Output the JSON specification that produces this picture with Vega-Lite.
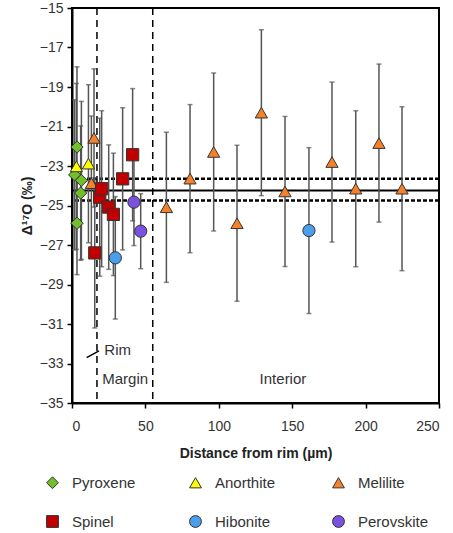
{
  "$schema": "https://vega.github.io/schema/vega-lite/v6.json",
  "width": 367,
  "height": 395,
  "autosize": "none",
  "padding": {"left": 72, "top": 8, "right": 14, "bottom": 130},
  "background": "white",
  "config": {
    "font": "Liberation Sans",
    "view": {"stroke": "#000", "strokeWidth": 2},
    "axis": {
      "grid": false,
      "domainColor": "#000",
      "domainWidth": 2,
      "tickColor": "#000",
      "tickWidth": 1.5,
      "tickSize": 5,
      "labelOverlap": false,
      "labelFont": "Liberation Sans",
      "labelFontSize": 14,
      "labelColor": "#333",
      "titleFont": "Liberation Sans",
      "titleFontSize": 14,
      "titleFontWeight": "bold",
      "titleColor": "#222"
    }
  },
  "data": {
    "values": [
      {"mineral": "Pyroxene", "d": 3.4, "v": -22.04, "e": 4.06},
      {"mineral": "Pyroxene", "d": 1.8, "v": -23.45, "e": 3.8},
      {"mineral": "Pyroxene", "d": 6.4, "v": -23.73, "e": 4.0},
      {"mineral": "Pyroxene", "d": 5.9, "v": -24.37, "e": 3.4},
      {"mineral": "Pyroxene", "d": 3.4, "v": -25.9, "e": 2.6},
      {"mineral": "Anorthite", "d": 3.0, "v": -23.02, "e": 4.2},
      {"mineral": "Anorthite", "d": 11.2, "v": -22.88, "e": 4.0},
      {"mineral": "Melilite", "d": 15.0, "v": -21.58, "e": 3.5},
      {"mineral": "Melilite", "d": 13.2, "v": -23.87, "e": 3.4},
      {"mineral": "Melilite", "d": 64.3, "v": -25.09, "e": 3.8},
      {"mineral": "Melilite", "d": 80.4, "v": -23.64, "e": 3.75},
      {"mineral": "Melilite", "d": 96.5, "v": -22.29, "e": 4.0},
      {"mineral": "Melilite", "d": 112.4, "v": -25.9, "e": 3.95},
      {"mineral": "Melilite", "d": 129.0, "v": -20.3, "e": 4.2},
      {"mineral": "Melilite", "d": 145.1, "v": -24.29, "e": 3.8},
      {"mineral": "Melilite", "d": 177.1, "v": -22.8, "e": 4.05},
      {"mineral": "Melilite", "d": 193.3, "v": -24.15, "e": 3.95},
      {"mineral": "Melilite", "d": 209.1, "v": -21.84, "e": 4.0},
      {"mineral": "Melilite", "d": 224.8, "v": -24.15, "e": 4.15},
      {"mineral": "Spinel", "d": 15.5, "v": -27.4, "e": 3.8},
      {"mineral": "Spinel", "d": 18.9, "v": -24.58, "e": 4.0},
      {"mineral": "Spinel", "d": 20.2, "v": -24.15, "e": 3.95},
      {"mineral": "Spinel", "d": 25.0, "v": -25.08, "e": 3.15},
      {"mineral": "Spinel", "d": 28.2, "v": -25.45, "e": 3.1},
      {"mineral": "Spinel", "d": 34.5, "v": -23.65, "e": 3.6},
      {"mineral": "Spinel", "d": 41.3, "v": -22.43, "e": 3.35},
      {"mineral": "Hibonite", "d": 29.5, "v": -27.65, "e": 3.1},
      {"mineral": "Hibonite", "d": 161.4, "v": -26.27, "e": 4.2},
      {"mineral": "Perovskite", "d": 42.2, "v": -24.83, "e": 2.2},
      {"mineral": "Perovskite", "d": 46.8, "v": -26.3, "e": 1.9}
    ]
  },
  "layer": [
    {
      "data": {"values": [{"y": -24.24}]},
      "mark": {"type": "rule", "color": "#000", "strokeWidth": 2},
      "encoding": {"y": {"field": "y", "type": "quantitative", "scale": {"domain": [-35, -15], "nice": false}, "axis": {"values": [-35, -33, -31, -29, -27, -25, -23, -21, -19, -17, -15], "title": "Δ¹⁷O (‰)", "labelPadding": 4, "titlePadding": 5}}}
    },
    {
      "data": {"values": [{"y": -23.65}, {"y": -24.75}]},
      "mark": {"type": "rule", "color": "#000", "strokeWidth": 2.5, "strokeDash": [4, 2]},
      "encoding": {"y": {"field": "y", "type": "quantitative", "scale": {"domain": [-35, -15], "nice": false}, "axis": {"values": [-35, -33, -31, -29, -27, -25, -23, -21, -19, -17, -15], "title": "Δ¹⁷O (‰)", "labelPadding": 4, "titlePadding": 5}}}
    },
    {
      "data": {"values": [{"x": 17}, {"x": 55}]},
      "mark": {"type": "rule", "color": "#000", "strokeWidth": 1.5, "strokeDash": [7, 5]},
      "encoding": {"x": {"field": "x", "type": "quantitative", "scale": {"domain": [0, 250], "nice": false}, "axis": {"values": [0, 50, 100, 150, 200, 250], "title": "Distance from rim (µm)", "labelPadding": 11, "titlePadding": 13}}}
    },
    {
      "mark": {"type": "errorbar", "ticks": {"size": 5, "color": "#555", "strokeWidth": 1.5}, "color": "#555", "thickness": 1.5},
      "encoding": {
        "x": {"field": "d", "type": "quantitative", "scale": {"domain": [0, 250], "nice": false}, "axis": {"values": [0, 50, 100, 150, 200, 250], "title": "Distance from rim (µm)", "labelPadding": 11, "titlePadding": 13}},
        "y": {"field": "v", "type": "quantitative", "scale": {"domain": [-35, -15], "nice": false}, "axis": {"values": [-35, -33, -31, -29, -27, -25, -23, -21, -19, -17, -15], "title": "Δ¹⁷O (‰)", "labelPadding": 4, "titlePadding": 5}},
        "yError": {"field": "e"}
      }
    },
    {
      "mark": {"type": "point", "filled": true, "stroke": "#333", "strokeWidth": 1, "opacity": 1, "size": 150},
      "encoding": {
        "x": {"field": "d", "type": "quantitative", "scale": {"domain": [0, 250], "nice": false}, "axis": {"values": [0, 50, 100, 150, 200, 250], "title": "Distance from rim (µm)", "labelPadding": 11, "titlePadding": 13}},
        "y": {"field": "v", "type": "quantitative", "scale": {"domain": [-35, -15], "nice": false}, "axis": {"values": [-35, -33, -31, -29, -27, -25, -23, -21, -19, -17, -15], "title": "Δ¹⁷O (‰)", "labelPadding": 4, "titlePadding": 5}},
        "color": {
          "field": "mineral", "type": "nominal",
          "scale": {"domain": ["Pyroxene", "Anorthite", "Melilite", "Spinel", "Hibonite", "Perovskite"], "range": ["#72bf2c", "#ffff00", "#f5822a", "#c00000", "#4a9eea", "#7b52e0"]},
          "legend": {"orient": "none", "legendX": -27, "legendY": 467, "direction": "horizontal", "columns": 3, "gridAlign": "all", "columnPadding": 44, "rowPadding": 22, "title": null, "labelFontSize": 15, "labelFont": "Liberation Sans", "labelColor": "#333", "labelOffset": 12, "symbolSize": 140, "symbolStrokeColor": "#333", "symbolStrokeWidth": 1}
        },
        "shape": {
          "field": "mineral", "type": "nominal",
          "scale": {"domain": ["Pyroxene", "Anorthite", "Melilite", "Spinel", "Hibonite", "Perovskite"], "range": ["diamond", "triangle-up", "triangle-up", "square", "circle", "circle"]}
        }
      }
    },
    {
      "data": {"values": [{}]},
      "mark": {"type": "rule", "color": "#000", "strokeWidth": 1.5},
      "encoding": {"x": {"datum": 10, "type": "quantitative", "scale": {"domain": [0, 250], "nice": false}, "axis": {"values": [0, 50, 100, 150, 200, 250], "title": "Distance from rim (µm)", "labelPadding": 11, "titlePadding": 13}}, "y": {"datum": -32.7, "type": "quantitative", "scale": {"domain": [-35, -15], "nice": false}, "axis": {"values": [-35, -33, -31, -29, -27, -25, -23, -21, -19, -17, -15], "title": "Δ¹⁷O (‰)", "labelPadding": 4, "titlePadding": 5}}, "x2": {"datum": 18.4}, "y2": {"datum": -32.36}}
    },
    {
      "data": {"values": [{}]},
      "mark": {"type": "text", "align": "left", "baseline": "middle", "fontSize": 15, "color": "#333"},
      "encoding": {"x": {"datum": 22.0, "type": "quantitative", "scale": {"domain": [0, 250], "nice": false}, "axis": {"values": [0, 50, 100, 150, 200, 250], "title": "Distance from rim (µm)", "labelPadding": 11, "titlePadding": 13}}, "y": {"datum": -32.3, "type": "quantitative", "scale": {"domain": [-35, -15], "nice": false}, "axis": {"values": [-35, -33, -31, -29, -27, -25, -23, -21, -19, -17, -15], "title": "Δ¹⁷O (‰)", "labelPadding": 4, "titlePadding": 5}}, "text": {"value": "Rim"}}
    },
    {
      "data": {"values": [{}]},
      "mark": {"type": "text", "align": "center", "baseline": "middle", "fontSize": 15, "color": "#333"},
      "encoding": {"x": {"datum": 36.2, "type": "quantitative", "scale": {"domain": [0, 250], "nice": false}, "axis": {"values": [0, 50, 100, 150, 200, 250], "title": "Distance from rim (µm)", "labelPadding": 11, "titlePadding": 13}}, "y": {"datum": -33.8, "type": "quantitative", "scale": {"domain": [-35, -15], "nice": false}, "axis": {"values": [-35, -33, -31, -29, -27, -25, -23, -21, -19, -17, -15], "title": "Δ¹⁷O (‰)", "labelPadding": 4, "titlePadding": 5}}, "text": {"value": "Margin"}}
    },
    {
      "data": {"values": [{}]},
      "mark": {"type": "text", "align": "center", "baseline": "middle", "fontSize": 15, "color": "#333"},
      "encoding": {"x": {"datum": 143.7, "type": "quantitative", "scale": {"domain": [0, 250], "nice": false}, "axis": {"values": [0, 50, 100, 150, 200, 250], "title": "Distance from rim (µm)", "labelPadding": 11, "titlePadding": 13}}, "y": {"datum": -33.8, "type": "quantitative", "scale": {"domain": [-35, -15], "nice": false}, "axis": {"values": [-35, -33, -31, -29, -27, -25, -23, -21, -19, -17, -15], "title": "Δ¹⁷O (‰)", "labelPadding": 4, "titlePadding": 5}}, "text": {"value": "Interior"}}
    }
  ]
}
